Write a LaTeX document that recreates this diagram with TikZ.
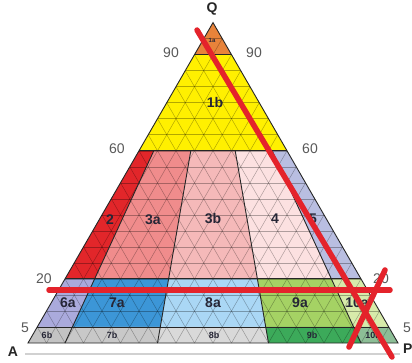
\documentclass[tikz,border=0pt]{standalone}
\usepackage{fontspec}
\setmainfont{Liberation Sans}
\usetikzlibrary{calc}
\definecolor{c1a}{HTML}{E8833A}
\definecolor{c1b}{HTML}{FFF000}
\definecolor{c2}{HTML}{E2262A}
\definecolor{c3a}{HTML}{F08C8C}
\definecolor{c3b}{HTML}{F5B9B9}
\definecolor{c4}{HTML}{FCE1E1}
\definecolor{c5}{HTML}{B9BEE1}
\definecolor{c6a}{HTML}{AAAADC}
\definecolor{c7a}{HTML}{3C96D7}
\definecolor{c8a}{HTML}{AAD7F5}
\definecolor{c9a}{HTML}{A5D264}
\definecolor{c10a}{HTML}{D7EBAA}
\definecolor{c6b}{HTML}{C3C3C3}
\definecolor{c7b}{HTML}{C8C8C8}
\definecolor{c8b}{HTML}{D9D9D9}
\definecolor{c9b}{HTML}{3CAA5A}
\definecolor{c10b}{HTML}{8CBE96}
\definecolor{labelc}{HTML}{262636}
\definecolor{redmark}{HTML}{E4232B}
\begin{document}
\begin{tikzpicture}[x=1pt,y=-1pt,
  fieldline/.style={draw=black!85, line width=0.9pt},
  gridline/.style={draw=black, opacity=0.3, line width=0.5pt},
  numlabel/.style={text=black!65, inner sep=0pt, font=\fontsize{14}{14}\selectfont},
  cornerlabel/.style={text=black!85, inner sep=0pt, font=\bfseries\fontsize{14}{14}\selectfont},
  fieldlabel/.style={text=labelc, inner sep=0pt, font=\bfseries\fontsize{14}{14}\selectfont},
  smalllabel/.style={text=labelc, inner sep=0pt, font=\bfseries\fontsize{9}{9}\selectfont},
  redstroke/.style={draw=redmark, line width=5.5pt, line cap=round}]
\useasboundingbox (0,0) rectangle (412,362);
\fill[white] (0,0) rectangle (412,362);
\coordinate (A) at (28,343);
\coordinate (P) at (398,343);
\coordinate (Q) at (213,22.6);
\coordinate (b10) at ($(A)!0.10!(P)$);
\coordinate (b35) at ($(A)!0.35!(P)$);
\coordinate (b65) at ($(A)!0.65!(P)$);
\coordinate (b90) at ($(A)!0.90!(P)$);
% fields
\fill[c1a] (Q) -- ($(Q)!0.1!(P)$) -- ($(Q)!0.1!(A)$) -- cycle;
\fill[c1b] ($(Q)!0.1!(A)$) -- ($(Q)!0.1!(P)$) -- ($(Q)!0.4!(P)$) -- ($(Q)!0.4!(A)$) -- cycle;
\foreach \c/\l/\r/\sa/\sb in {c2/A/b10/0.4/0.8, c3a/b10/b35/0.4/0.8, c3b/b35/b65/0.4/0.8, c4/b65/b90/0.4/0.8, c5/b90/P/0.4/0.8,
  c6a/A/b10/0.8/0.95, c7a/b10/b35/0.8/0.95, c8a/b35/b65/0.8/0.95, c9a/b65/b90/0.8/0.95, c10a/b90/P/0.8/0.95,
  c6b/A/b10/0.95/1, c7b/b10/b35/0.95/1, c8b/b35/b65/0.95/1, c9b/b65/b90/0.95/1, c10b/b90/P/0.95/1}
  \fill[\c] ($(Q)!\sa!(\l)$) -- ($(Q)!\sa!(\r)$) -- ($(Q)!\sb!(\r)$) -- ($(Q)!\sb!(\l)$) -- cycle;
% grid
\foreach \k in {1,...,19} {
  \pgfmathsetmacro\t{\k/20}
  \draw[gridline] ($(Q)!\t!(A)$) -- ($(Q)!\t!(P)$);
  \draw[gridline] ($(A)!\t!(P)$) -- ($(Q)!\t!(P)$);
  \draw[gridline] ($(P)!\t!(A)$) -- ($(Q)!\t!(A)$);
}
% field boundaries
\draw[fieldline] (A) -- (P) -- (Q) -- cycle;
\foreach \s in {0.1,0.4,0.8,0.95}
  \draw[fieldline] ($(Q)!\s!(A)$) -- ($(Q)!\s!(P)$);
\foreach \b in {b10,b35,b65,b90}
  \draw[fieldline] ($(Q)!0.4!(\b)$) -- (\b);
% baseline under the triangle
\coordinate (bl1) at (25,354);
\coordinate (bl2) at (400,354);
\draw[black!18, line width=1.3pt] (bl1) -- (bl2);
% corner and scale labels
\node[cornerlabel] (lq) at (212,9) {Q};
\node[cornerlabel] (la) at (13,352) {A};
\node[cornerlabel, anchor=west] (lp) at (403,349) {P};
\node[numlabel] (n90l) at (171,53) {90};
\node[numlabel] (n90r) at (254,53) {90};
\node[numlabel] (n60l) at (117,149) {60};
\node[numlabel] (n60r) at (310,149) {60};
\node[numlabel] (n20l) at (44,279) {20};
\node[numlabel] (n20r) at (381,279) {20};
\node[numlabel] (n5l) at (25,328) {5};
\node[numlabel] (n5r) at (407,328) {5};
% field labels
\node[text=labelc, inner sep=0pt, font=\bfseries\fontsize{6}{6}\selectfont] (f1a) at (212,40) {1a};
\node[fieldlabel] (f1b) at (215,102) {1b};
\node[fieldlabel] (f2) at (110,220) {2};
\node[fieldlabel] (f3a) at (153,220) {3a};
\node[fieldlabel] (f3b) at (213,219) {3b};
\node[fieldlabel] (f4) at (275,219) {4};
\node[fieldlabel] (f5) at (313,219) {5};
\node[fieldlabel] (f6a) at (68,303) {6a};
\node[fieldlabel] (f7a) at (117,303) {7a};
\node[fieldlabel] (f8a) at (213,303) {8a};
\node[fieldlabel] (f9a) at (300,303) {9a};
\node[fieldlabel] (f10a) at (357,303) {10a};
\node[smalllabel] (f6b) at (47,335) {6b};
\node[smalllabel] (f7b) at (112,335) {7b};
\node[smalllabel] (f8b) at (214,335) {8b};
\node[smalllabel] (f9b) at (312,335) {9b};
\node[smalllabel] (f10b) at (373,335) {10b};
% red strike marks
\coordinate (r1s) at (197,30);
\coordinate (r1e) at (392,357);
\coordinate (r2s) at (385,270);
\coordinate (r2e) at (349,347);
\coordinate (r3s) at (49,290);
\coordinate (r3e) at (390,290);
\draw[redstroke] (r1s) -- (r1e);
\draw[redstroke] (r2s) -- (r2e);
\draw[redstroke] (r3s) -- (r3e);
\end{tikzpicture}
\end{document}
